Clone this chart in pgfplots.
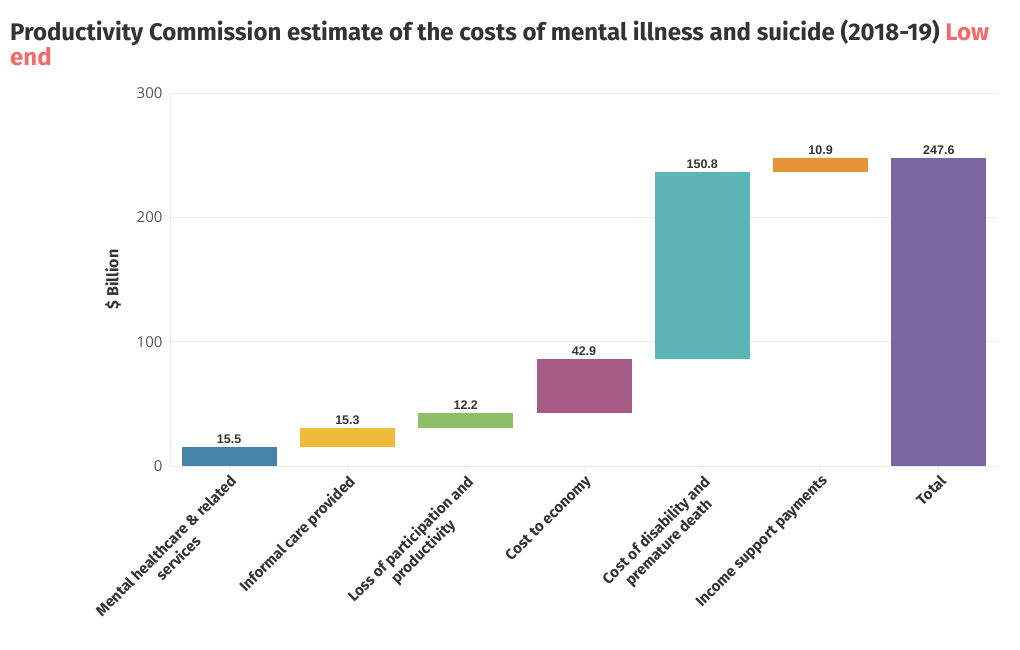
\documentclass[border=0pt]{standalone}
\usepackage{pgfplots}
\pgfplotsset{compat=1.18}
\usepackage{pgfplotstable}
\usepackage{fontspec}
\setmainfont{Fira Sans}
\newfontfamily\tickfont{Open Sans}
\newfontfamily\valfont{Liberation Sans}
\definecolor{cBlue}{HTML}{4783A8}
\definecolor{cYellow}{HTML}{EFBB38}
\definecolor{cGreen}{HTML}{8DBE68}
\definecolor{cMag}{HTML}{A65A86}
\definecolor{cTeal}{HTML}{5CB5B4}
\definecolor{cOrange}{HTML}{E59334}
\definecolor{cPurple}{HTML}{7B66A3}
\definecolor{txt}{HTML}{333333}
\definecolor{ticktxt}{HTML}{555555}
\definecolor{gridc}{HTML}{EBEBEB}
\definecolor{lowc}{HTML}{F26B6B}

\pgfplotstableread{
x base c0 c1 c2 c3 c4 c5 c6 top lab
0 0 15.5 0 0 0 0 0 0 15.5 15.5
1 15.5 0 15.3 0 0 0 0 0 30.8 15.3
2 30.8 0 0 12.2 0 0 0 0 43.0 12.2
3 43.0 0 0 0 42.9 0 0 0 85.9 42.9
4 85.9 0 0 0 0 150.8 0 0 236.7 150.8
5 236.7 0 0 0 0 0 10.9 0 247.6 10.9
6 0 0 0 0 0 0 0 247.6 247.6 247.6
}\data

\begin{document}
\begin{tikzpicture}
\useasboundingbox (0,0) rectangle (1020pt,650pt);
\node[anchor=north west, align=left, text=txt, font=\bfseries\fontsize{24}{25}\selectfont, inner sep=0pt] at (10pt,630pt)
  {Productivity Commission estimate of the costs of mental illness and suicide (2018-19) \textcolor{lowc}{Low}\\\textcolor{lowc}{end}};
\begin{axis}[
  at={(170pt,184pt)}, anchor=south west,
  scale only axis, width=828pt, height=373pt,
  xmin=-0.5, xmax=6.5, ymin=0, ymax=300,
  ytick={0,100,200,300},
  xtick={0,1,2,3,4,5,6},
  xticklabels={{Mental healthcare \& related\\services},{Informal care provided},{Loss of participation and\\productivity},{Cost to economy},{Cost of disability and\\premature death},{Income support payments},{Total}},
  x tick label style={rotate=45, anchor=north east, align=center, font=\bfseries\fontsize{15}{17.5}\selectfont, text=txt, inner sep=2pt},
  y tick label style={font=\tickfont\fontsize{15}{16}\selectfont, text=ticktxt, xshift=-4pt},
  /pgf/number format/assume math mode=true,
  ylabel={\$ Billion},
  every axis y label/.style={at={(-57pt,0.5)}, rotate=90, anchor=center, font=\bfseries\fontsize{16}{17}\selectfont, text=txt},
  ymajorgrids, grid style={gridc, line width=0.8pt},
  axis line style={gridc, line width=0.8pt},
  axis x line*=bottom, axis y line*=left,
  tick style={gridc, line width=0.8pt},
  xtick align=outside, major tick length=5pt,
  ytick style={draw=none},
  ybar stacked, bar width=95pt,
  clip=false,
]
\addplot[draw=none, fill=none] table[x=x, y=base] {\data};
\addplot[draw=none, fill=cBlue] table[x=x, y=c0] {\data};
\addplot[draw=none, fill=cYellow] table[x=x, y=c1] {\data};
\addplot[draw=none, fill=cGreen] table[x=x, y=c2] {\data};
\addplot[draw=none, fill=cMag] table[x=x, y=c3] {\data};
\addplot[draw=none, fill=cTeal] table[x=x, y=c4] {\data};
\addplot[draw=none, fill=cOrange] table[x=x, y=c5] {\data};
\addplot[draw=none, fill=cPurple] table[x=x, y=c6] {\data};
\end{axis}
\begin{axis}[
  at={(170pt,184pt)}, anchor=south west,
  scale only axis, width=828pt, height=373pt,
  xmin=-0.5, xmax=6.5, ymin=0, ymax=300,
  hide axis, clip=false,
]
\addplot[only marks, mark=none, nodes near coords, point meta=explicit symbolic,
  every node near coord/.style={font=\valfont\bfseries\fontsize{12.5}{13}\selectfont, text=txt, anchor=south, inner sep=2pt, yshift=1pt}]
  table[x=x, y=top, meta=lab] {\data};
\end{axis}
\end{tikzpicture}
\end{document}
